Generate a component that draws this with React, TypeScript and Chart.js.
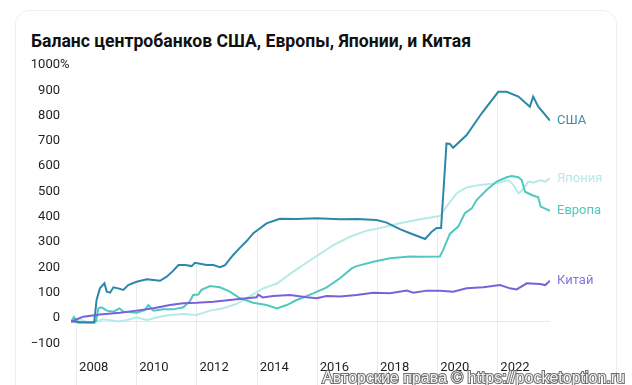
import React, { useEffect, useRef } from "react";
import { Chart, registerables } from "chart.js";

Chart.register(...registerables);

const TITLE = "Баланс центробанков США, Европы, Японии, и Китая";
const WATERMARK = "Авторские права © https://pocketoption.ru";

const X_MIN = 2007.83;
const X_MAX = 2023.75;
const X_TICKS = [2008, 2010, 2012, 2014, 2016, 2018, 2020, 2022];
const Y_TICKS = [-100, 0, 100, 200, 300, 400, 500, 600, 700, 800, 900, 1000];

const US_X = [2007.83, 2008.13, 2008.6, 2008.68, 2008.79, 2008.94, 2009.02, 2009.13, 2009.24, 2009.4, 2009.57, 2009.73, 2010.01, 2010.35, 2010.57, 2010.79, 2011.01, 2011.23, 2011.4, 2011.62, 2011.84, 2011.95, 2012.12, 2012.34, 2012.56, 2012.78, 2012.95, 2013.22, 2013.45, 2013.67, 2013.89, 2014.33, 2014.77, 2015.33, 2015.99, 2016.77, 2017.32, 2017.99, 2018.32, 2018.76, 2019.1, 2019.6, 2019.82, 2019.98, 2020.13, 2020.31, 2020.42, 2020.53, 2020.98, 2021.48, 2022.03, 2022.31, 2022.7, 2023.08, 2023.19, 2023.36, 2023.75];
const US_Y = [0, -2, -3, 85, 131, 151, 118, 114, 135, 131, 125, 144, 157, 167, 164, 161, 177, 201, 223, 223, 219, 232, 228, 223, 223, 215, 223, 263, 292, 318, 349, 388, 406, 405, 408, 404, 405, 401, 391, 365, 349, 326, 355, 370, 370, 704, 702, 687, 737, 823, 908, 908, 889, 849, 889, 849, 794];

const EU_X = [2007.83, 2007.93, 2008.06, 2008.6, 2008.66, 2008.74, 2008.85, 2009.02, 2009.24, 2009.44, 2009.57, 2010.01, 2010.28, 2010.4, 2010.57, 2010.9, 2011.23, 2011.56, 2011.78, 2011.89, 2012.06, 2012.17, 2012.45, 2012.78, 2013.11, 2013.45, 2013.89, 2014.33, 2014.67, 2015.0, 2015.33, 2015.88, 2016.33, 2016.77, 2017.16, 2017.32, 2017.88, 2018.43, 2019.1, 2019.43, 2020.09, 2020.2, 2020.42, 2020.7, 2020.92, 2021.15, 2021.31, 2021.64, 2021.98, 2022.31, 2022.48, 2022.7, 2022.81, 2022.92, 2023.14, 2023.36, 2023.44, 2023.75];
const EU_Y = [0, 18, -5, -5, 0, 52, 56, 43, 39, 52, 39, 35, 45, 65, 43, 48, 48, 56, 80, 105, 107, 125, 140, 135, 118, 92, 74, 65, 52, 65, 85, 111, 135, 171, 210, 219, 236, 250, 257, 256, 257, 283, 346, 375, 428, 447, 480, 520, 553, 570, 575, 570, 559, 513, 500, 491, 454, 437];

const JP_X = [2007.83, 2008.13, 2008.46, 2008.9, 2009.4, 2009.66, 2010.01, 2010.35, 2010.79, 2011.12, 2011.56, 2012.01, 2012.45, 2012.89, 2013.34, 2013.78, 2014.22, 2014.67, 2015.22, 2015.88, 2016.55, 2017.1, 2017.66, 2018.21, 2018.76, 2019.43, 2020.09, 2020.31, 2020.65, 2020.98, 2021.42, 2021.76, 2022.09, 2022.36, 2022.53, 2022.7, 2022.81, 2023.03, 2023.2, 2023.42, 2023.59, 2023.75];
const JP_Y = [0, 9, -7, 9, 0, 5, 17, 6, 19, 26, 30, 26, 43, 52, 70, 100, 131, 150, 197, 250, 302, 335, 359, 372, 388, 404, 417, 454, 507, 530, 540, 543, 549, 559, 540, 507, 517, 553, 549, 559, 553, 566];

const CN_X = [2007.83, 2008.24, 2008.79, 2009.46, 2010.01, 2010.57, 2011.12, 2011.56, 2012.01, 2012.56, 2013.11, 2013.67, 2014.0, 2014.05, 2014.2, 2014.55, 2015.11, 2015.66, 2015.99, 2016.33, 2016.77, 2017.32, 2017.88, 2018.43, 2018.99, 2019.21, 2019.65, 2020.09, 2020.53, 2020.98, 2021.53, 2022.09, 2022.42, 2022.64, 2022.98, 2023.42, 2023.59, 2023.75];
const CN_Y = [0, 19, 28, 35, 43, 52, 65, 72, 74, 78, 85, 92, 96, 106, 95, 101, 105, 96, 92, 101, 99, 105, 114, 112, 122, 114, 122, 122, 118, 131, 135, 144, 131, 127, 151, 148, 144, 161];

const NAMES = ["Китай", "США", "Европа", "Япония"];
const LINE_COLORS = ["#7b60d9", "#2c87a8", "#4fc9bf", "#b5ebe7"];
const LABEL_COLORS = ["#8a72de", "#3a8fae", "#4fc9bf", "#b5ebe7"];

const FONT = "Roboto, 'Noto Sans', sans-serif";

function pairs(xs: number[], ys: number[]) {
  const n = Math.min(xs.length, ys.length);
  const out: { x: number; y: number }[] = [];
  for (let i = 0; i < n; i++) out.push({ x: xs[i], y: ys[i] });
  return out;
}

function interp(xs: number[], ys: number[], x: number) {
  for (let i = 1; i < xs.length; i++) {
    if (x <= xs[i]) {
      const t = (x - xs[i - 1]) / (xs[i] - xs[i - 1]);
      return ys[i - 1] + t * (ys[i] - ys[i - 1]);
    }
  }
  return ys[ys.length - 1];
}

const decorPlugin = {
  id: "decor",
  beforeDatasetsDraw(chart: any) {
    const { ctx, scales } = chart;
    const xs = scales.x;
    const ys = scales.y;
    ctx.save();
    ctx.strokeStyle = "#ececec";
    ctx.lineWidth = 1;
    X_TICKS.forEach((t) => {
      const px = Math.round(xs.getPixelForValue(t)) + 0.5;
      const top = Math.max(
        interp(US_X, US_Y, t),
        interp(EU_X, EU_Y, t),
        interp(JP_X, JP_Y, t),
        interp(CN_X, CN_Y, t)
      );
      const py = ys.getPixelForValue(top);
      ctx.beginPath();
      ctx.moveTo(px, py);
      ctx.lineTo(px, chart.height);
      ctx.stroke();
    });
    ctx.restore();
  },
  afterDatasetsDraw(chart: any) {
    const { ctx } = chart;
    ctx.save();
    ctx.font = `13px ${FONT}`;
    ctx.textAlign = "left";
    ctx.textBaseline = "middle";
    chart.data.datasets.forEach((ds: any, i: number) => {
      const meta = chart.getDatasetMeta(i);
      const last = meta.data[meta.data.length - 1];
      ctx.fillStyle = LABEL_COLORS[i];
      ctx.fillText(NAMES[i], last.x + 7, last.y);
    });
    // percent sign after the top tick
    const ys = chart.scales.y;
    ctx.fillStyle = "#1f1f1f";
    ctx.fillText("%", ys.right - 11, ys.getPixelForValue(1000) - 3.5);
    // watermark
    ctx.font = `16px 'Liberation Sans', Arial, sans-serif`;
    ctx.textAlign = "right";
    ctx.textBaseline = "alphabetic";
    ctx.lineWidth = 2;
    ctx.strokeStyle = "#707070";
    ctx.strokeText(WATERMARK, 625, 383);
    ctx.fillStyle = "#f2f2f2";
    ctx.fillText(WATERMARK, 625, 383);
    ctx.restore();
  },
};

export default function App() {
  const ref = useRef<HTMLCanvasElement | null>(null);

  useEffect(() => {
    if (!ref.current) return;
    const series = [
      pairs(CN_X, CN_Y),
      pairs(US_X, US_Y),
      pairs(EU_X, EU_Y),
      pairs(JP_X, JP_Y),
    ];
    const chart = new Chart(ref.current, {
      type: "line",
      data: {
        datasets: series.map((d, i) => ({
          label: NAMES[i],
          data: d,
          borderColor: LINE_COLORS[i],
          backgroundColor: LINE_COLORS[i],
          borderWidth: 2,
          pointRadius: 0,
          tension: 0,
          fill: false,
        })),
      },
      options: {
        animation: false,
        responsive: false,
        devicePixelRatio: 1,
        layout: { padding: { left: 0, right: 82, top: 68.5, bottom: 0 } },
        plugins: {
          legend: { display: false },
          tooltip: { enabled: false },
          title: { display: false },
        },
        scales: {
          x: {
            type: "linear",
            min: X_MIN,
            max: X_MAX,
            grid: { display: false },
            border: { display: false },
            afterBuildTicks: (s: any) => {
              s.ticks = X_TICKS.map((v) => ({ value: v }));
            },
            afterFit: (s: any) => {
              s.height = 38.2;
            },
            ticks: {
              autoSkip: false,
              maxRotation: 0,
              minRotation: 0,
              align: "start",
              labelOffset: 3,
              padding: 5,
              color: "#1f1f1f",
              font: { family: FONT, size: 13 },
              callback: (v: any) => String(v),
            },
          },
          y: {
            type: "linear",
            min: -100,
            max: 1000,
            afterBuildTicks: (s: any) => {
              s.ticks = Y_TICKS.map((v) => ({ value: v }));
            },
            afterFit: (s: any) => {
              s.width = 71;
            },
            grid: {
              drawTicks: false,
              lineWidth: 1,
              color: (c: any) =>
                c.tick && c.tick.value === 0 ? "#e8e8e8" : "rgba(0,0,0,0)",
            },
            border: { display: false },
            ticks: {
              padding: 11,
              labelOffset: -3.5,
              color: "#1f1f1f",
              font: { family: FONT, size: 13 },
              callback: (v: any) => (v < 0 ? "−" + Math.abs(v) : String(v)),
            },
          },
        },
      },
      plugins: [decorPlugin],
    } as any);
    return () => chart.destroy();
  }, []);

  return (
    <div
      style={{
        position: "fixed",
        left: 0,
        top: 0,
        width: 632,
        height: 385,
        overflow: "hidden",
        background: "#ffffff",
      }}
    >
      <div
        style={{
          position: "absolute",
          left: 15,
          top: 10,
          width: 602,
          height: 420,
          border: "1px solid #efefef",
          borderRadius: 14,
          boxSizing: "border-box",
        }}
      />
      <div
        style={{
          position: "absolute",
          left: 31,
          top: 31,
          fontFamily: FONT,
          fontWeight: 700,
          fontSize: 17.6,
          lineHeight: "21px",
          color: "#111111",
          whiteSpace: "nowrap",
        }}
      >
        {TITLE}
      </div>
      <canvas
        ref={ref}
        width={632}
        height={385}
        style={{ position: "absolute", left: 0, top: 0, width: 632, height: 385 }}
      />
    </div>
  );
}
